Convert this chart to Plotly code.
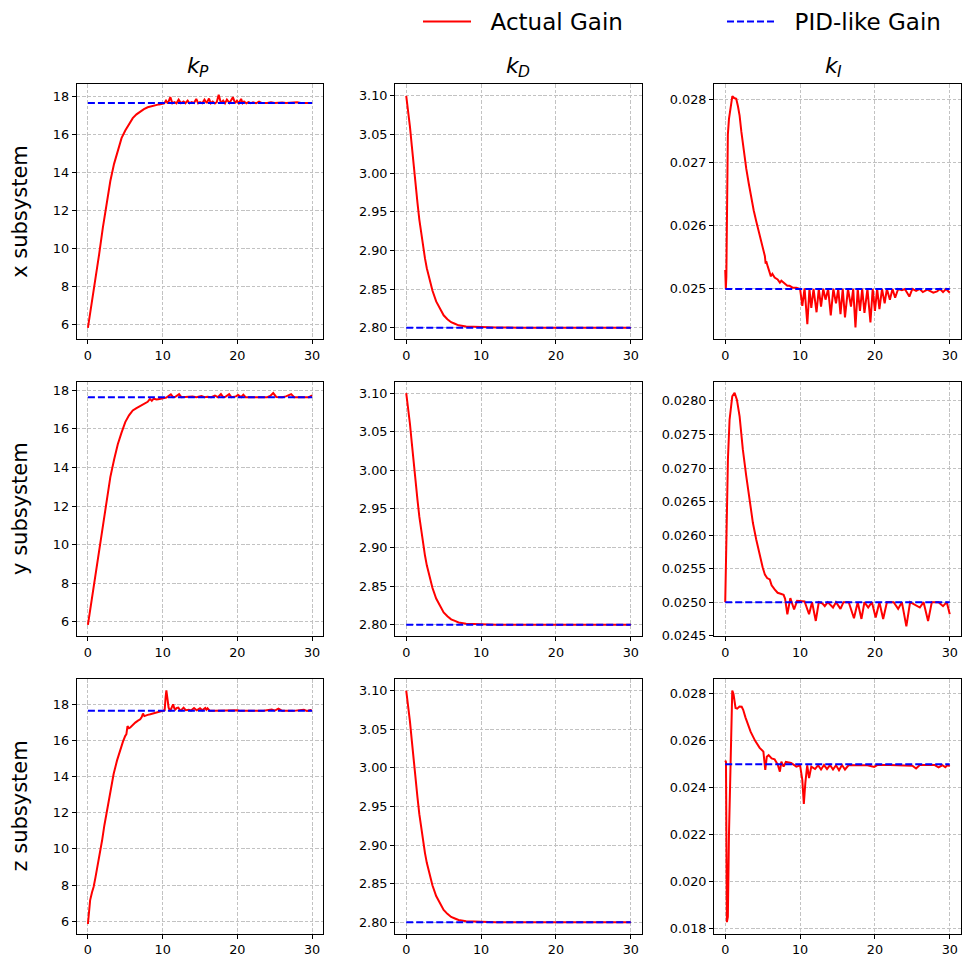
import plotly.graph_objects as go

# ---------------- data ----------------
T_KP1 = [0.0, 0.5, 1.0, 1.5, 2.0, 2.5, 3.0, 3.5, 4.0, 4.5, 5.0, 5.5, 6.0, 6.5, 7.0, 7.5, 8.0, 8.5, 9.0, 9.5, 10.0,
         10.2, 10.45, 10.7, 11.03, 11.3, 11.6, 11.85, 12.14, 12.45, 12.8, 13.05, 13.35, 13.6, 13.9, 14.2, 14.5, 14.75,
         15.0, 15.3, 15.6, 15.9, 16.2, 16.45, 16.7, 17.0, 17.25, 17.5, 17.8, 18.1, 18.35, 18.6, 18.95, 19.4, 19.7,
         19.95, 20.2, 20.5, 20.7, 20.9, 21.2, 21.5, 21.8, 22.1, 22.5, 22.9, 23.3, 24.0, 24.5, 25.0, 26.0, 26.5,
         28.0, 28.5, 29.0, 30.0]
KP1 = [5.85, 7.1, 8.5, 9.7, 11.1, 12.4, 13.55, 14.45, 15.2, 15.8, 16.2, 16.55, 16.85, 17.05, 17.2, 17.32, 17.42,
       17.48, 17.53, 17.57, 17.6,
       17.62, 17.77, 17.62, 17.95, 17.63, 17.69, 17.63, 17.82, 17.64, 17.72, 17.63, 17.77, 17.63, 17.69, 17.64, 17.86,
       17.63, 17.69, 17.63, 17.82, 17.64, 17.88, 17.63, 17.72, 17.62, 17.70, 18.07, 17.64, 17.77, 17.63, 17.82, 17.64,
       17.95, 17.64, 17.77, 17.63, 17.86, 17.64, 17.72, 17.63, 17.69, 17.63, 17.68, 17.63, 17.72, 17.64, 17.64, 17.68,
       17.64, 17.67, 17.64, 17.68, 17.64, 17.65, 17.64]

T_KP2 = [0.0, 0.5, 1.0, 1.5, 2.0, 2.5, 3.0, 3.5, 4.0, 4.5, 5.0, 5.5, 6.0, 6.5, 7.0, 7.5, 8.0, 8.3, 8.55, 8.8, 9.2,
         9.6, 10.0, 10.5, 11.1, 11.4, 11.7, 12.2, 12.5, 13.0, 14.0, 14.5, 15.2, 15.6, 16.0, 16.5, 17.0, 17.4, 17.8,
         18.1, 18.4, 18.9, 19.2, 19.8, 20.1, 20.5, 20.8, 21.1, 22.0, 23.0, 24.0, 24.4, 24.8, 25.2, 26.0, 26.5, 27.2,
         27.6, 28.5, 29.0, 29.6, 30.0]
KP2 = [5.85, 7.1, 8.4, 9.65, 11.0, 12.25, 13.5, 14.4, 15.2, 15.8, 16.35, 16.7, 16.95, 17.07, 17.18, 17.28, 17.4,
       17.55, 17.45, 17.56, 17.52, 17.55, 17.57, 17.62, 17.79, 17.64, 17.66, 17.80, 17.64, 17.65, 17.68, 17.64,
       17.70, 17.64, 17.66, 17.64, 17.72, 17.64, 17.80, 17.64, 17.66, 17.80, 17.64, 17.68, 17.75, 17.64, 17.77,
       17.64, 17.64, 17.65, 17.64, 17.70, 17.85, 17.65, 17.64, 17.68, 17.80, 17.64, 17.64, 17.65, 17.64, 17.73]

T_KP3 = [0.0, 0.3, 0.55, 0.76, 1.0, 1.2, 1.5, 1.9, 2.2, 2.55, 3.0, 3.44, 3.9, 4.33, 4.7, 5.0, 5.15, 5.3, 5.5, 5.67,
         6.0, 6.34, 6.7, 7.0, 7.2, 7.37, 7.55, 7.7, 8.0, 8.35, 8.8, 9.24, 9.6, 9.9, 10.27, 10.4, 10.5, 10.65, 10.8,
         11.0, 11.2, 11.4, 11.55, 11.7, 11.9, 12.1, 12.3, 12.45, 12.8, 13.1, 13.5, 13.8, 14.2, 14.55, 15.0, 15.3,
         15.7, 15.85, 16.0, 16.3, 17.0, 18.0, 19.0, 20.0, 20.4, 22.0, 23.5, 24.6, 25.0, 25.5, 26.0, 27.5, 28.9,
         29.3, 29.8, 30.0]
KP3 = [5.85, 7.17, 7.6, 7.9, 8.4, 8.83, 9.6, 10.48, 11.3, 12.13, 13.2, 14.15, 14.9, 15.52, 15.95, 16.26, 16.35,
       16.8, 16.68, 16.72, 16.88, 16.99, 17.1, 17.17, 17.3, 17.49, 17.35, 17.36, 17.42, 17.45, 17.5, 17.54, 17.6,
       17.63, 17.67, 18.4, 18.77, 18.3, 17.82, 17.63, 17.85, 18.0, 17.8, 17.72, 17.8, 17.82, 17.7, 17.67, 17.82,
       17.68, 17.7, 17.66, 17.8, 17.67, 17.78, 17.67, 17.8, 17.7, 17.78, 17.65, 17.64, 17.65, 17.64, 17.68, 17.64,
       17.64, 17.65, 17.72, 17.65, 17.76, 17.64, 17.64, 17.7, 17.64, 17.68, 17.64]

T_KD = [0.0, 0.25, 0.5, 0.75, 1.0, 1.25, 1.5, 1.75, 2.0, 2.25, 2.5, 2.75, 3.0, 3.5, 4.0, 4.5, 5.0, 5.5, 6.0, 6.5,
        7.0, 8.0, 9.0, 10.0, 12.0, 15.0, 20.0, 25.0, 30.0]
KD = [3.100, 3.081, 3.060, 3.035, 3.008, 2.985, 2.962, 2.940, 2.921, 2.905, 2.890, 2.877, 2.866, 2.848, 2.834,
      2.824, 2.816, 2.811, 2.807, 2.805, 2.803, 2.8015, 2.801, 2.8005, 2.8002, 2.800, 2.800, 2.800, 2.800]

T_KI1 = [0.0, 0.08, 0.15, 0.25, 0.35, 0.5, 0.7, 0.95, 1.2, 1.47, 1.7, 1.92, 2.15, 2.36, 2.6, 2.81, 3.15, 3.48, 3.8,
         4.15, 4.5, 4.81, 5.1, 5.3, 5.4, 5.48, 5.7, 5.93, 6.1, 6.3, 6.6, 7.0, 7.3, 7.5, 8.0, 8.3, 8.6, 9.0, 9.5,
         10.0, 10.3, 10.6, 10.97, 11.25, 11.5, 11.8, 12.2, 12.5, 12.8, 13.1, 13.4, 13.75, 14.1, 14.45, 14.8, 15.1,
         15.4, 15.7, 16.0, 16.4, 16.8, 17.1, 17.4, 17.7, 18.0, 18.3, 18.6, 19.0, 19.4, 19.7, 20.0, 20.3, 20.6,
         20.95, 21.3, 21.6, 22.0, 22.35, 22.7, 23.1, 23.6, 24.0, 24.6, 25.0, 25.5, 26.0, 26.4, 27.0, 27.8, 28.3,
         28.7, 29.1, 29.5, 30.0]
KI1 = [0.02530, 0.02500, 0.02520, 0.02650, 0.02745, 0.02770, 0.02790, 0.02806, 0.02803, 0.02802, 0.02790,
       0.02775, 0.02750, 0.02728, 0.02708, 0.02691, 0.02667, 0.02644, 0.02625, 0.02607, 0.02590, 0.02576,
       0.02562, 0.02552, 0.02540, 0.02544, 0.02535, 0.02528, 0.02520, 0.02524, 0.02518, 0.02515, 0.02510,
       0.02513, 0.02508, 0.02505, 0.02505, 0.02502, 0.02502, 0.02500,
       0.02473, 0.02501, 0.02444, 0.02500, 0.02470, 0.02500, 0.02463, 0.02500, 0.02472, 0.02500, 0.02483,
       0.02500, 0.02458, 0.02500, 0.02477, 0.02500, 0.02460, 0.02500, 0.02455, 0.02500, 0.02472, 0.02500,
       0.02439, 0.02500, 0.02465, 0.02500, 0.02462, 0.02500, 0.02447, 0.02500, 0.02465, 0.02500, 0.02468,
       0.02500, 0.02477, 0.02500, 0.02483, 0.02500, 0.02486, 0.02500, 0.02498, 0.02500, 0.02488, 0.02500,
       0.02497, 0.02500, 0.02495, 0.02499, 0.02494, 0.02496, 0.02500, 0.02495, 0.02500, 0.02494]

T_KI2 = [0.0, 0.13, 0.36, 0.58, 0.94, 1.25, 1.56, 1.92, 2.36, 2.81, 3.25, 3.7, 4.15, 4.6, 5.0, 5.3, 5.6, 5.95, 6.2,
         6.6, 7.0, 7.3, 7.8, 8.0, 8.3, 8.7, 9.2, 9.6, 10.0, 10.6, 11.2, 11.6, 12.1, 12.5, 13.0, 13.3, 13.7, 14.4,
         14.8, 15.4, 15.8, 16.5, 17.2, 17.7, 18.2, 18.6, 19.1, 19.6, 20.1, 20.6, 21.1, 21.6, 22.5, 23.1, 23.6, 24.2,
         24.7, 25.5, 26.0, 26.5, 27.1, 27.6, 28.5, 29.1, 29.6, 30.0]
KI2 = [0.02500, 0.02588, 0.02713, 0.02772, 0.02807, 0.02812, 0.02802, 0.02777, 0.02727, 0.02688, 0.02653,
       0.02618, 0.02593, 0.02569, 0.02552, 0.02541, 0.02536, 0.02534, 0.02525, 0.02519, 0.02514, 0.02513,
       0.02511, 0.02505, 0.02482, 0.02506, 0.02489, 0.02502, 0.02502, 0.02501, 0.02482, 0.02500, 0.02472,
       0.02500, 0.02498, 0.02494, 0.02500, 0.02492, 0.02500, 0.02490, 0.02500, 0.02500, 0.02476, 0.02500,
       0.02475, 0.02500, 0.02492, 0.02500, 0.02477, 0.02500, 0.02475, 0.02500, 0.02500, 0.02490, 0.02500,
       0.02464, 0.02500, 0.02495, 0.02492, 0.02500, 0.02472, 0.02500, 0.02500, 0.02494, 0.02500, 0.02482]

T_KI3 = [0.0, 0.1, 0.22, 0.35, 0.5, 0.66, 0.8, 0.94, 1.1, 1.38, 1.6, 1.9, 2.2, 2.4, 2.7, 2.85, 3.4, 4.0, 4.6, 5.1,
         5.35, 5.55, 5.8, 6.2, 6.6, 7.0, 7.3, 7.5, 7.8, 8.1, 8.8, 9.5, 10.0, 10.3, 10.5, 10.7, 10.95, 11.2, 11.5,
         12.0, 12.4, 12.8, 13.2, 13.6, 14.0, 14.4, 14.8, 15.2, 15.6, 16.0, 16.5, 17.5, 19.0, 19.9, 20.3, 22.0,
         24.0, 25.0, 25.5, 26.0, 28.0, 28.5, 29.0, 29.4, 29.7, 30.0]
KI3 = [0.02516, 0.02510, 0.01828, 0.01850, 0.02200, 0.02462, 0.02700, 0.02814, 0.02800, 0.02740, 0.02737,
       0.02746, 0.02745, 0.02732, 0.02700, 0.02687, 0.02638, 0.02600, 0.02570, 0.02554, 0.02476, 0.02532,
       0.02539, 0.02525, 0.02521, 0.02500, 0.02469, 0.02511, 0.02490, 0.02510, 0.02506, 0.02490, 0.02496,
       0.02434, 0.02331, 0.02420, 0.02496, 0.02441, 0.02490, 0.02480, 0.02496, 0.02478, 0.02497, 0.02480,
       0.02497, 0.02478, 0.02496, 0.02475, 0.02497, 0.02478, 0.02497, 0.02496, 0.02496, 0.02489, 0.02497,
       0.02497, 0.02496, 0.02494, 0.02482, 0.02497, 0.02497, 0.02487, 0.02496, 0.02488, 0.02497, 0.02492]

PID_KP = 17.64
PID_KD = 2.80
PID_KI = 0.025
T_RANGE = [0.0, 30.0]

TITLE_MAIN = "k"
TITLE_SUBS = ["P", "D", "I"]
ROW_LABELS = ["x subsystem", "y subsystem", "z subsystem"]
SERIES_NAMES = ["Actual Gain", "PID-like Gain"]
X_TICKS = [0, 10, 20, 30]

panels = [
    (T_KP1, KP1, PID_KP), (T_KD, KD, PID_KD), (T_KI1, KI1, PID_KI),
    (T_KP2, KP2, PID_KP), (T_KD, KD, PID_KD), (T_KI2, KI2, PID_KI),
    (T_KP3, KP3, PID_KP), (T_KD, KD, PID_KD), (T_KI3, KI3, PID_KI),
]

# y-axis settings per panel: (range, tick0, dtick, format)
yset = [
    ([5.25, 18.62], 6, 2, "d"), ([2.785, 3.115], 2.80, 0.05, ".2f"), ([0.024202, 0.028247], 0.025, 0.001, ".3f"),
    ([5.25, 18.45], 6, 2, "d"), ([2.785, 3.115], 2.80, 0.05, ".2f"), ([0.02449, 0.02829], 0.0245, 0.0005, ".4f"),
    ([5.3, 19.4], 6, 2, "d"), ([2.785, 3.115], 2.80, 0.05, ".2f"), ([0.01778, 0.02863], 0.018, 0.002, ".3f"),
]

W, H = 965, 970
xdom = [[76.7 / W, 323.3 / W], [395 / W, 642 / W], [714 / W, 961 / W]]
ydom = [[1 - 341.7 / H, 1 - 85 / H], [1 - 641 / H, 1 - 384.3 / H], [1 - 940.7 / H, 1 - 684 / H]]

fig = go.Figure()
FONT = "DejaVu Sans"
grid = dict(showgrid=True, gridcolor="#c2c2c2", griddash="3.5px,1.8px", gridwidth=0.8)
axis_common = dict(showline=True, linecolor="black", linewidth=1, mirror=True, ticks="outside",
                   ticklen=4, tickwidth=1, tickcolor="black", zeroline=False,
                   tickfont=dict(family=FONT, size=12.8, color="black"), **grid)

for i, (t, v, pid) in enumerate(panels):
    r, c = divmod(i, 3)
    n = i + 1
    xs = "x" if n == 1 else f"x{n}"
    ys = "y" if n == 1 else f"y{n}"
    fig.add_trace(go.Scatter(x=t, y=v, mode="lines", line=dict(color="red", width=2),
                             name="\u00a0\u00a0" + SERIES_NAMES[0], legend="legend", showlegend=(i == 0),
                             xaxis=xs, yaxis=ys))
    fig.add_trace(go.Scatter(x=T_RANGE, y=[pid, pid], mode="lines",
                             line=dict(color="blue", width=2, dash="7px,3px"),
                             name="\u00a0\u00a0" + SERIES_NAMES[1], legend="legend2", showlegend=(i == 0),
                             xaxis=xs, yaxis=ys))
    rng, t0, dt, fmt = yset[i]
    fig.layout[f"xaxis{n}"] = dict(domain=xdom[c], anchor=ys, range=[-1.5, 31.5],
                                   tickmode="array", tickvals=X_TICKS, **axis_common)
    fig.layout[f"yaxis{n}"] = dict(domain=ydom[r], anchor=xs, range=rng, tickmode="linear",
                                   tick0=t0, dtick=dt, tickformat=fmt, **axis_common)

annotations = []
for c, sub in enumerate(TITLE_SUBS):
    cx = (xdom[c][0] + xdom[c][1]) / 2
    annotations.append(dict(text=TITLE_MAIN, xref="paper", yref="paper", x=cx, y=ydom[0][1],
                            yanchor="bottom", xanchor="right", xshift=3, yshift=4, showarrow=False,
                            font=dict(family=FONT, size=22, color="black", style="italic")))
    annotations.append(dict(text=sub, xref="paper", yref="paper", x=cx, y=ydom[0][1],
                            yanchor="bottom", xanchor="left", xshift=-3, yshift=1, showarrow=False,
                            font=dict(family=FONT, size=15.5, color="black", style="italic")))
for r, lab in enumerate(ROW_LABELS):
    annotations.append(dict(text=lab, xref="paper", yref="paper", x=20 / W,
                            y=(ydom[r][0] + ydom[r][1]) / 2, xanchor="center", yanchor="middle",
                            textangle=-90, showarrow=False,
                            font=dict(family=FONT, size=21, color="black")))

leg_common = dict(orientation="h", y=1.0, xanchor="left", yanchor="top", itemwidth=48,
                  font=dict(family=FONT, size=23, color="black"), bgcolor="rgba(0,0,0,0)")
fig.update_layout(
    width=W, height=H, margin=dict(l=0, r=0, t=0, b=0),
    paper_bgcolor="white", plot_bgcolor="white",
    annotations=annotations,
    legend=dict(x=418 / W, **leg_common),
    legend2=dict(x=722 / W, **leg_common),
    showlegend=True,
)

fig.write_html("out.html", config={"displayModeBar": False},
               post_script="document.body.style.margin='0';document.body.style.overflow='hidden';")
